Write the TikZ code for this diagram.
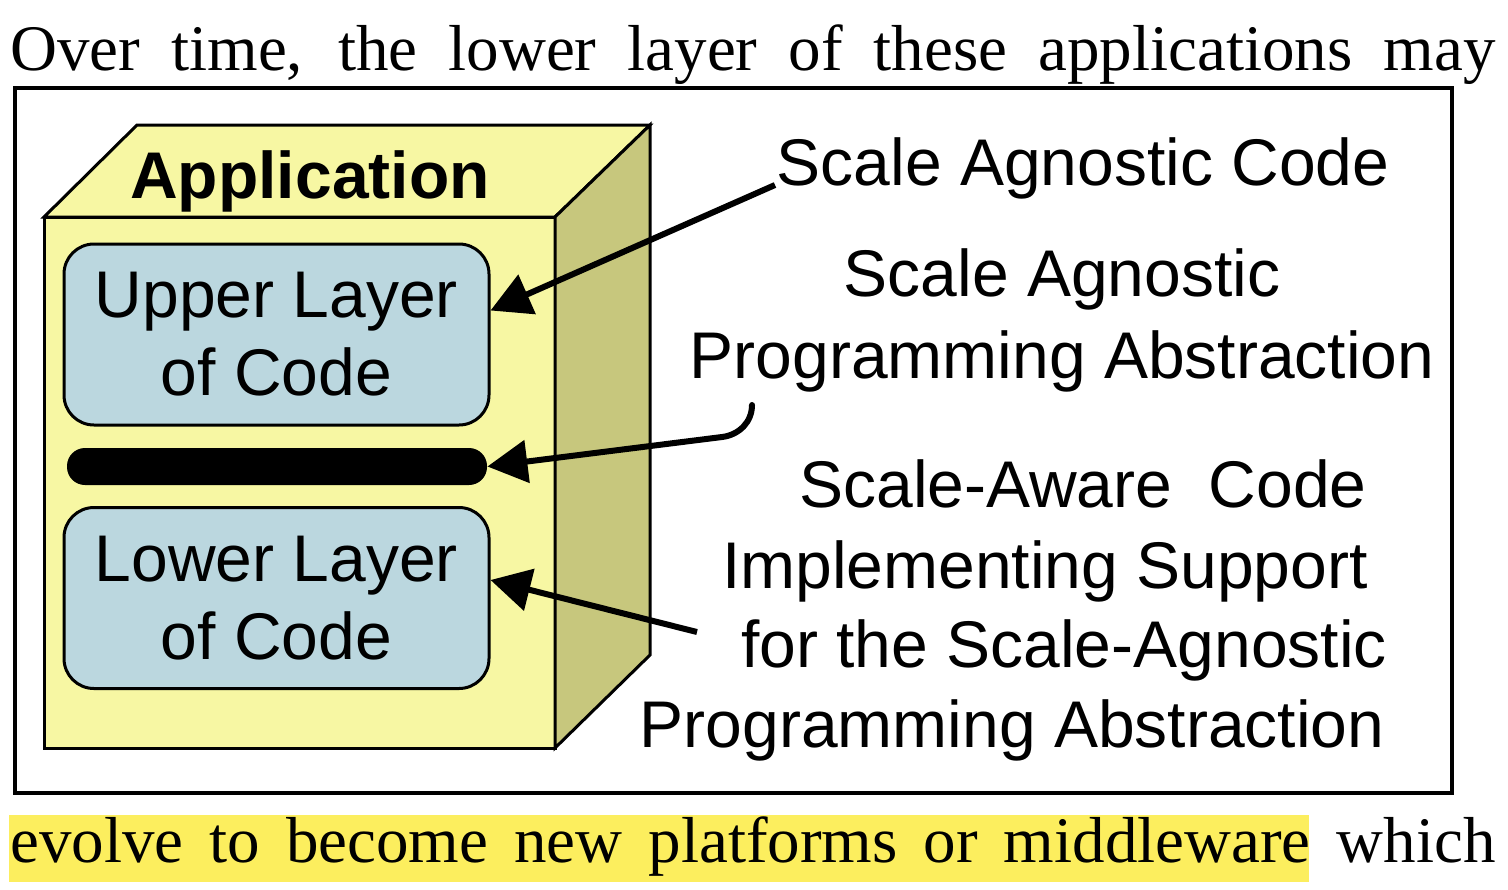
\documentclass[tikz,border=0pt]{standalone}
\usepackage{fontspec}
\setmainfont{Liberation Serif}
\setsansfont{Liberation Sans}
\usetikzlibrary{positioning,arrows.meta,calc}
\definecolor{appface}{HTML}{F7F7A3}
\definecolor{appside}{HTML}{C7C77D}
\definecolor{layerblue}{HTML}{BBD7DF}
\definecolor{hilite}{HTML}{FCEE5E}

\begin{document}
\begin{tikzpicture}[x=0.5pt,y=-0.5pt,
  face/.style={draw=black,line width=1.5pt,line join=miter},
  layer/.style={draw=black,line width=1.5pt,fill=layerblue,rounded corners=15pt,minimum width=212.5pt,minimum height=90.5pt,align=center,inner sep=0pt,font=\sffamily\fontsize{33}{39}\selectfont},
  lbl/.style={font=\sffamily\fontsize{33}{40}\selectfont,inner sep=0pt,anchor=base},
  pointer/.style={line width=3pt,-{Triangle[length=20pt,width=21pt]}},
  prose/.style={font=\fontsize{32.5}{40}\selectfont,inner sep=0pt,anchor=base west}]
  \useasboundingbox (0,0) rectangle (1508,889);

  % ---------------- running text of the page ----------------
  \node[prose] (topline) at (10,70) {\makebox[742.5pt][s]{Over time, the lower layer of these applications may}};
  \fill[hilite] (9,815) rectangle (1309,882);
  \node[prose] (botline) at (10,862) {\makebox[742.5pt][s]{evolve to become new platforms or middleware which}};

  % the figure frame
  \draw[line width=2pt] (15,88) rectangle (1452,793);

  % ---------------- the application cube ----------------
  \filldraw[face,fill=appface] (44,217) rectangle (555,748);
  \filldraw[face,fill=appface] (44,217) -- (137,125) -- (650,125) -- (555,217) -- cycle;
  \filldraw[face,fill=appside] (555,217) -- (650,125) -- (650,655) -- (555,748) -- cycle;
  \node[font=\sffamily\bfseries\fontsize{33}{40}\selectfont,inner sep=0pt,anchor=base] (app) at (310,198) {Application};

  \node[layer] (upper) at (276.5,334.5) {Upper Layer\\of Code};
  \node[fill=black,rounded corners=9pt,minimum width=210pt,minimum height=18.5pt,inner sep=0pt] (bar) at (277,466.5) {};
  \node[layer] (lower) at (276.5,598) {Lower Layer\\of Code};

  % ---------------- labels on the right ----------------
  \node[lbl] (agcode) at (1083,185) {Scale Agnostic Code};
  \node[lbl] (abs1) at (1062,296) {Scale Agnostic};
  \node[lbl] (abs2) at (1062,378) {Programming Abstraction};
  \node[lbl] (aw1) at (1083,507) {Scale-Aware\ \ Code};
  \node[lbl] (aw2) at (1045,588) {Implementing Support};
  \node[lbl] (aw3) at (1064,667) {for the Scale-Agnostic};
  \node[lbl] (aw4) at (1012,747) {Programming Abstraction};

  % pointers into the cube
  \coordinate (upfrom) at (775,185);
  \coordinate (barfrom) at (752,405);
  \coordinate (barbend) at (722,437);
  \coordinate (lowfrom) at (697,632);
  \draw[pointer] (upfrom) -- ([yshift=12pt]upper.east);
  \draw[pointer,line cap=round] (barfrom) to[out=-90,in=7] (barbend) -- (bar.east);
  \draw[pointer] (lowfrom) -- ([yshift=9pt]lower.east);
\end{tikzpicture}
\end{document}
